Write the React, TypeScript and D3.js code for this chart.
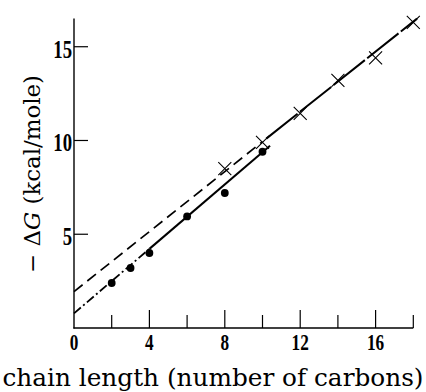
import React from "react";
import * as d3 from "d3";

// Free energy of adsorption vs. hydrocarbon chain length
const dotChain = [2, 3, 4, 6, 8, 10];
const dotEnergy = [2.4, 3.2, 4.0, 5.95, 7.2, 9.4];
const crossChain = [8, 10, 12, 14, 16, 18];
const crossEnergy = [8.5, 9.9, 11.45, 13.2, 14.4, 16.3];

// Straight-line fits: [intercept, slope]
const dotFit = [0.78, 0.86];
const crossFit = [1.94, 0.8];

const xTicks = [2, 4, 6, 8, 10, 12, 14, 16, 18];
const xTickLabels = [0, 4, 8, 12, 16];
const yTicks = [5, 10, 15];

const W = 426;
const H = 392;

export default function App() {
  const x = d3.scaleLinear().domain([0, 18]).range([74, 413.3]);
  const y = d3.scaleLinear().domain([0, 16.5]).range([328, 18.6]);

  const fitLine = (fit: number[], x0: number, x1: number) =>
    d3
      .line<number>()
      .x((v) => x(v))
      .y((v) => y(fit[0] + fit[1] * v))([x0, x1]) as string;

  const serif = "'Liberation Serif', 'Times New Roman', serif";
  const titleFont = "'DejaVu Serif', 'Liberation Serif', serif";

  return (
    <svg
      width={W}
      height={H}
      style={{ position: "absolute", left: 0, top: 0, background: "#fff" }}
    >
      {/* axes */}
      <line x1={x(0)} y1={y(16.5)} x2={x(0)} y2={y(0) + 0.6} stroke="#000" strokeWidth={1.4} />
      <line x1={x(0) - 0.6} y1={y(0)} x2={x(18)} y2={y(0)} stroke="#000" strokeWidth={1.4} />

      {xTicks.map((t) => (
        <line
          key={"xt" + t}
          x1={x(t)}
          x2={x(t)}
          y1={y(0)}
          y2={y(0) - (t % 4 === 0 ? 18 : 13)}
          stroke="#000"
          strokeWidth={1.2}
        />
      ))}
      {yTicks.map((t) => (
        <line
          key={"yt" + t}
          x1={x(0)}
          x2={x(0) + 14}
          y1={y(t)}
          y2={y(t)}
          stroke="#000"
          strokeWidth={1.2}
        />
      ))}

      {xTickLabels.map((t) => (
        <text
          key={"xl" + t}
          transform={`translate(${x(t)},350) scale(0.75,1)`}
          textAnchor="middle"
          fontFamily={serif}
          fontSize={23}
          fontWeight="bold"
        >
          {t}
        </text>
      ))}
      {yTicks.map((t) => (
        <text
          key={"yl" + t}
          transform={`translate(72,${y(t) + 11}) scale(0.75,1)`}
          textAnchor="end"
          fontFamily={serif}
          fontSize={25}
          fontWeight="bold"
        >
          {t}
        </text>
      ))}

      {/* fitted lines */}
      <path d={fitLine(crossFit, 0, 10)} stroke="#000" strokeWidth={1.7} fill="none" strokeDasharray="11,6" />
      <path d={fitLine(crossFit, 10.2, 18.2)} stroke="#000" strokeWidth={2} fill="none" strokeDasharray="40,3" />
      <path d={fitLine(dotFit, 0, 4)} stroke="#000" strokeWidth={1.8} fill="none" strokeDasharray="9,3,2,3" />
      <path d={fitLine(dotFit, 4, 10.4)} stroke="#000" strokeWidth={2} fill="none" />

      {/* data points */}
      {dotChain.map((c, i) => (
        <circle key={"d" + i} cx={x(c)} cy={y(dotEnergy[i])} r={3.9} fill="#000" />
      ))}
      {crossChain.map((c, i) => {
        const cx = x(c);
        const cy = y(crossEnergy[i]);
        const s = 6.5;
        return (
          <path
            key={"c" + i}
            d={`M${cx - s},${cy - s}L${cx + s},${cy + s}M${cx - s},${cy + s}L${cx + s},${cy - s}`}
            stroke="#000"
            strokeWidth={1.1}
          />
        );
      })}

      {/* axis titles */}
      <text
        transform={`translate(40,174) rotate(-90)`}
        textAnchor="middle"
        fontFamily={titleFont}
        fontSize={22}
        textLength={198}
        lengthAdjust="spacingAndGlyphs"
      >
        {"− Δ"}
        <tspan fontStyle="italic">G</tspan>
        {" (kcal/mole)"}
      </text>
      <text
        x={213}
        y={386}
        textAnchor="middle"
        fontFamily={titleFont}
        fontSize={24}
        textLength={421}
        lengthAdjust="spacingAndGlyphs"
      >
        chain length (number of carbons)
      </text>
    </svg>
  );
}
